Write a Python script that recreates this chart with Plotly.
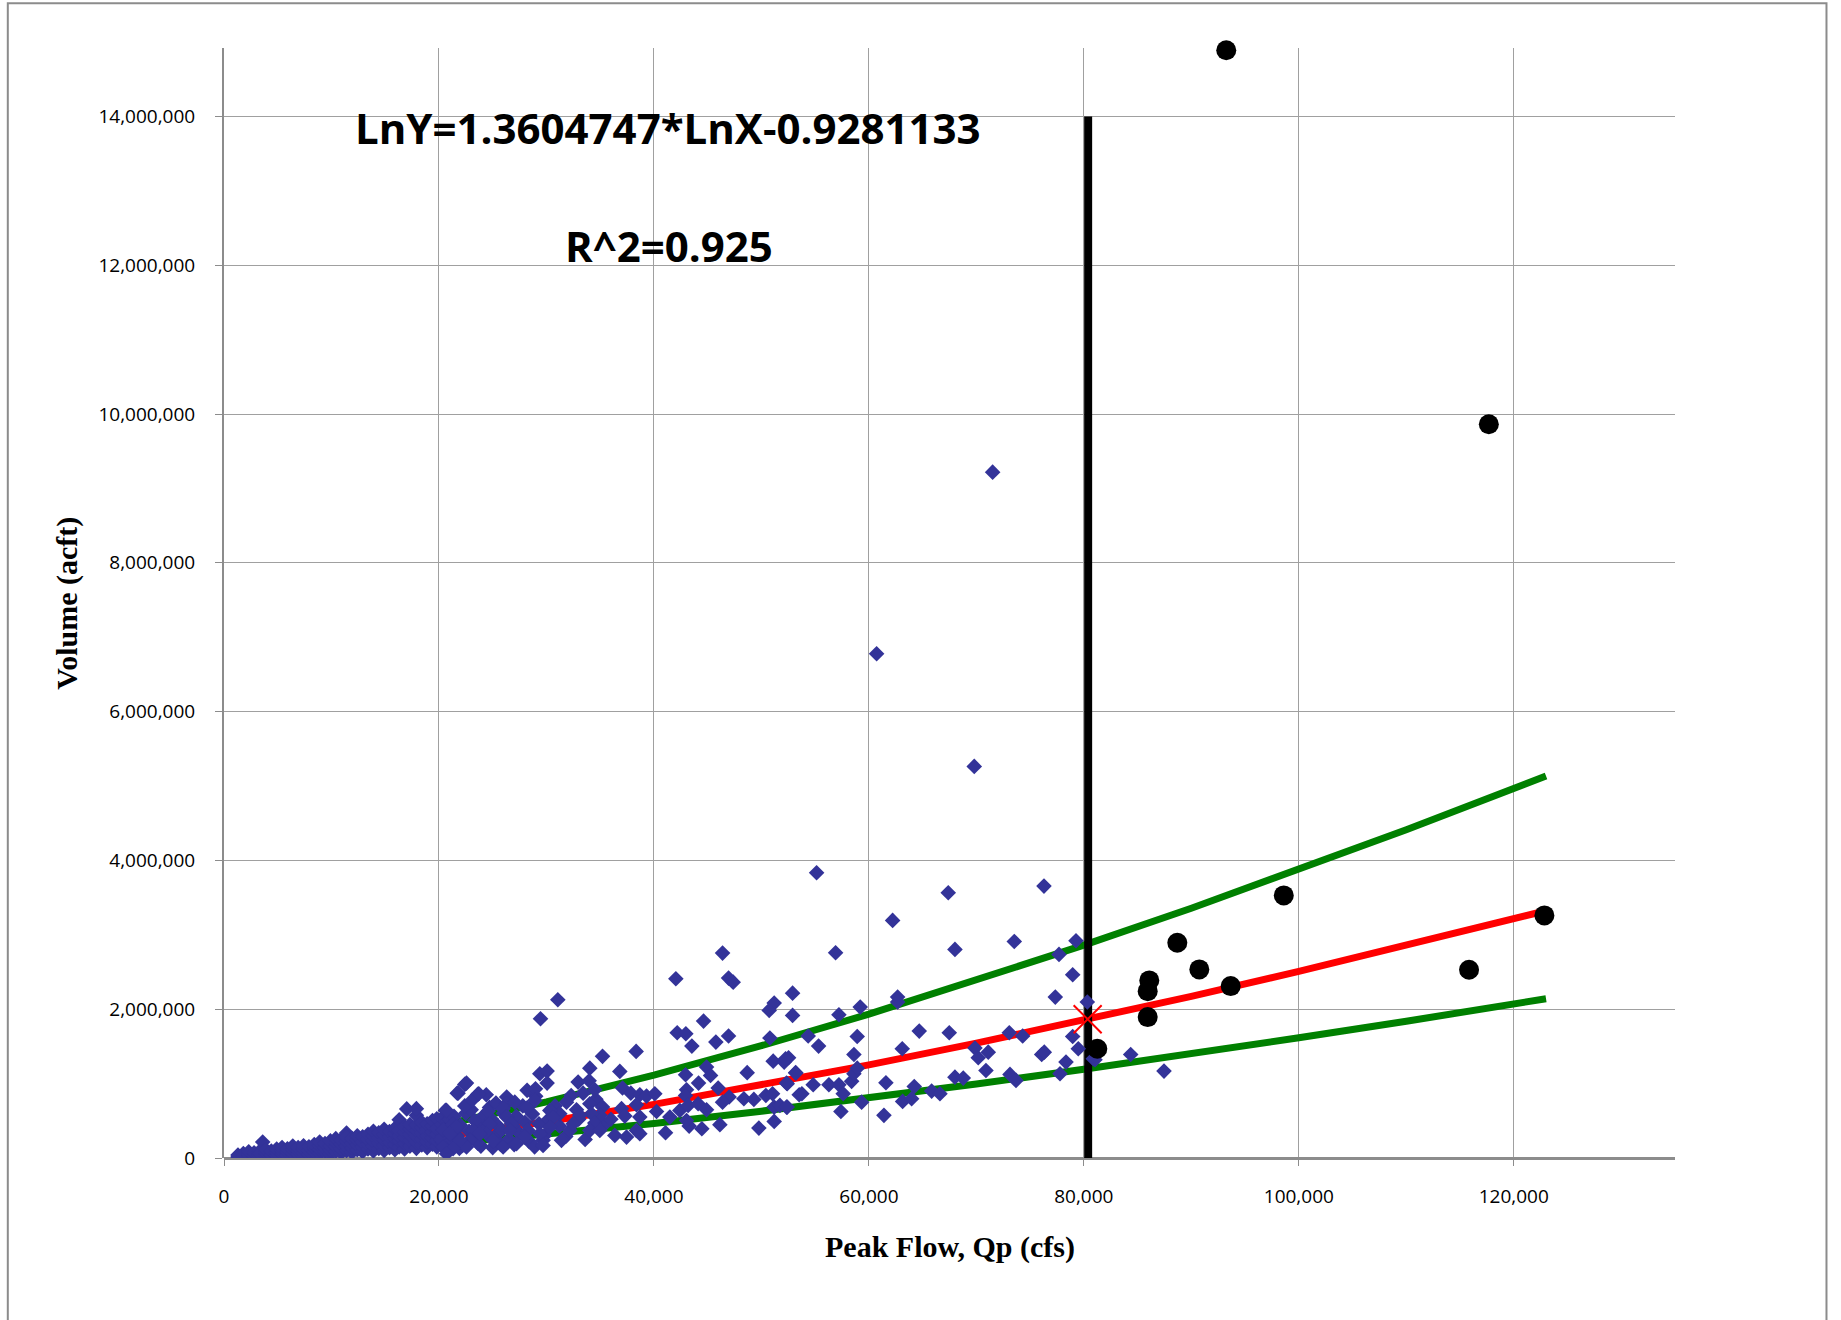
import plotly.graph_objects as go

# ---------------- data ----------------
# observed events (blue diamonds): peak flow (cfs), volume (acft)
qp_obs = [
    1300, 1300, 1800, 1800, 2300, 2300, 2300, 2800, 2800, 3300, 3300, 3300, 3600, 3900, 3900, 3900,
    4400, 4400, 4900, 4900, 4900, 5400, 5400, 5400, 5900, 5900, 5900, 6400, 6400, 6400, 6900, 6900,
    6900, 7400, 7400, 7400, 7900, 7900, 7900, 8400, 8400, 8400, 8900, 8900, 8900, 8900, 9400, 9400,
    9400, 9900, 9900, 9900, 9900, 10400, 10400, 10400, 10400, 10900, 10900, 10900, 10900, 11400,
    11400, 11400, 11400, 11400, 11900, 11900, 11900, 11900, 12400, 12400, 12400, 12400, 12900,
    12900, 12900, 12900, 13400, 13400, 13400, 13400, 13900, 13900, 13900, 13900, 13900, 14400,
    14400, 14400, 14400, 14900, 14900, 14900, 14900, 14900, 15400, 15400, 15400, 15400, 15900,
    15900, 15900, 15900, 15900, 16300, 16300, 16300, 16300, 16300, 16800, 16800, 16800, 16800,
    16800, 17000, 17300, 17300, 17300, 17300, 17300, 17900, 17900, 17900, 17900, 17900, 17900,
    17900, 18400, 18400, 18400, 18400, 18400, 18900, 18900, 18900, 18900, 18900, 19400, 19400,
    19400, 19400, 19400, 19800, 19800, 19800, 19800, 19800, 20300, 20300, 20300, 20300, 20300,
    20600, 20800, 20800, 20800, 20800, 20800, 21300, 21300, 21300, 21300, 21700, 22400, 23600,
    20200, 20400, 20900, 21000, 21400, 21700, 22000, 22200, 22500, 22800, 23000, 23300, 23600,
    23900, 24100, 24300, 24700, 24900, 25200, 25500, 25700, 26000, 26300, 26500, 26900, 27200,
    27500, 27800, 28000, 28400, 28700, 29000, 29300, 29800, 30200, 30800, 31200, 31800, 32300,
    33000, 33600, 34600, 35400, 36000, 22400, 23100, 24400, 25300, 21300, 20600, 21900, 23600,
    25000, 27000, 28900,
    46386, 42040, 46943, 47373, 31058, 29448, 52900, 51188, 50723, 52900, 44617, 42164, 42970,
    43529, 45762, 46943, 50789, 38345, 35218, 34036, 36828, 51095, 52119, 52528, 48676, 42942,
    53181, 29383, 30062, 30062, 22560, 21778, 23705, 32947, 33971, 34501, 33412, 28200, 28982,
    37079, 37851, 38689, 39312, 40084, 43035, 42942, 44152, 44896, 45269, 45976, 47000, 46386,
    48368, 49299, 50415, 51039, 51188, 51719, 52398, 49765, 51188, 52342, 53515, 46135, 44459,
    43278, 41081, 40244, 41482, 42412, 43185, 44115, 44896, 43035, 38376, 38689, 38376, 38689,
    36986, 37293, 36363, 37451, 35218, 34967, 34036, 34191, 34501, 34036, 34967, 32798, 33105,
    32175, 32486, 31244, 31401, 31865, 30313, 30620, 30313, 29689, 29383, 29689, 28200, 28917,
    28293, 27986, 27214, 26283, 25968, 27056, 26283, 26748, 25817, 26589, 25968, 24571, 24729,
    24421, 25036, 23333, 23175, 23798, 22867, 22560, 20699, 21629, 21007, 21937, 20382, 21313,
    20699,
    55135, 67383, 76290, 62208, 56902, 68007, 73527, 79269, 77687, 78961, 77343, 80322, 59193,
    57211, 62673, 62673, 54353, 55321, 58914, 58607, 52249, 53209, 52398, 54818, 53767, 56280,
    57211, 57611, 58393, 58607, 58914, 57397, 59323, 52342, 61585, 61399, 63103, 64685, 67477,
    64220, 63139, 63977, 65838, 66611, 68007, 68780, 69868, 70175, 71106, 70892, 73062, 74309,
    73127, 73685, 76077, 76319, 78339, 77780, 78961, 79482, 80878,
    84358, 87457, 81036, 71514, 60718, 69803,
]
vol_obs = [
    15000, 40000, 25000, 60000, 20000, 50000, 85000, 30000, 70000, 40000, 90000, 60000, 215000,
    35000, 75000, 110000, 45000, 95000, 30000, 70000, 120000, 55000, 100000, 140000, 40000, 85000,
    125000, 60000, 110000, 160000, 50000, 95000, 140000, 70000, 120000, 165000, 45000, 100000,
    150000, 80000, 130000, 180000, 60000, 115000, 170000, 215000, 85000, 140000, 195000, 55000,
    110000, 165000, 230000, 90000, 150000, 210000, 260000, 70000, 125000, 185000, 245000, 100000,
    160000, 225000, 335000, 280000, 75000, 135000, 200000, 265000, 110000, 170000, 240000, 300000,
    85000, 150000, 215000, 285000, 120000, 185000, 250000, 320000, 95000, 160000, 230000, 300000,
    360000, 130000, 200000, 270000, 340000, 100000, 170000, 245000, 315000, 385000, 140000, 210000,
    285000, 355000, 110000, 185000, 260000, 330000, 400000, 515000, 150000, 225000, 300000, 370000,
    120000, 195000, 275000, 345000, 420000, 660000, 160000, 240000, 315000, 390000, 450000, 130000,
    210000, 290000, 370000, 440000, 573000, 663000, 175000, 255000, 335000, 410000, 480000, 140000,
    220000, 300000, 385000, 460000, 185000, 270000, 350000, 430000, 505000, 150000, 235000, 320000,
    400000, 528000, 200000, 280000, 365000, 450000, 540000, 640000, 160000, 245000, 335000, 420000,
    500000, 210000, 295000, 380000, 470000, 872000, 989000, 855000,
    250000, 380000, 190000, 520000, 560000, 300000, 440000, 170000, 600000, 360000, 650000, 250000,
    470000, 160000, 560000, 390000, 680000, 520000, 290000, 430000, 190000, 600000, 820000, 250000,
    430000, 560000, 330000, 700000, 480000, 220000, 590000, 830000, 460000, 300000, 520000, 700000,
    430000, 290000, 840000, 520000, 250000, 790000, 450000, 520000, 700000, 780000, 850000, 740000,
    450000, 120000, 130000, 200000, 140000, 180000, 150000,
    2754000, 2410000, 2418000, 2364000, 2128000, 1872000, 2216000, 2082000, 1984000, 1917000,
    1840000, 1684000, 1671000, 1504000, 1558000, 1639000, 1612000, 1433000, 1366000, 1208000,
    1164000, 1302000, 1289000, 1348000, 1147000, 1120000, 1147000, 1133000, 1168000, 1007000,
    1007000, 872000, 864000, 1020000, 1039000, 918000, 872000, 909000, 931000, 940000, 872000,
    851000, 832000, 864000, 918000, 841000, 1007000, 1222000, 1110000, 940000, 819000, 751000,
    797000, 788000, 841000, 864000, 684000, 707000, 684000, 402000, 492000, 1007000, 851000,
    448000, 394000, 429000, 340000, 626000, 550000, 640000, 707000, 730000, 649000, 505000,
    716000, 550000, 371000, 327000, 663000, 563000, 304000, 281000, 684000, 573000, 730000,
    595000, 469000, 371000, 371000, 649000, 573000, 371000, 461000, 595000, 237000, 751000,
    640000, 550000, 415000, 237000, 327000, 169000, 676000, 774000, 371000, 281000, 192000,
    730000, 663000, 751000, 550000, 461000, 371000, 371000, 147000, 630000, 461000, 327000,
    237000, 505000, 371000, 327000, 237000, 147000, 640000, 415000, 327000, 237000, 147000,
    125000, 58000,
    3835000, 3566000, 3655000, 3194000, 2759000, 2804000, 2911000, 2921000, 2737000, 2464000,
    2163000, 2096000, 2028000, 1926000, 2163000, 2096000, 1639000, 1504000, 1634000, 1392000,
    1335000, 1141000, 999000, 985000, 864000, 985000, 985000, 864000, 1030000, 1133000, 1208000,
    626000, 751000, 684000, 1012000, 573000, 1469000, 1706000, 1684000, 962000, 761000, 797000,
    899000, 864000, 1087000, 1074000, 1477000, 1348000, 1423000, 1177000, 1684000, 1639000,
    1124000, 1043000, 1392000, 1423000, 1289000, 1133000, 1634000, 1469000, 1335000,
    1392000, 1168000, 1321000, 9219000, 6778000, 5264000,
]

# large recorded events (black dots)
qp_big = [81251, 85940, 85940, 86089, 88695, 90743, 93661, 98600, 122848, 115839, 117680, 93250]
vol_big = [1469000, 1894000, 2243000, 2387000, 2894000, 2535000, 2311000, 3530000, 3261000,
           2531000, 9863000, 14890000]

# regression line (red) and bounds (green)
line_q = [1000, 10000, 20000, 30000, 40000, 50000, 60000, 70000, 80000, 90000, 100000, 110000, 123000]
fit_v = [4770, 109350, 280770, 487490, 720960, 976660, 1251700, 1543800, 1851300, 2172900,
         2508000, 2855200, 3323400]
upper_v = [7370, 168900, 433800, 753200, 1113900, 1508900, 1933900, 2385200, 2860300, 3357100,
           3874900, 4411300, 5134700]
lower_v = [3070, 70420, 180800, 313900, 464300, 628900, 806100, 994200, 1192200, 1399300,
           1615200, 1838700, 2140300]

# threshold line and design point
thresh_q = [80400, 80400]
thresh_v = [0, 14000000]
design_q = [80354]
design_v = [1866000]

x_ticks = [0, 20000, 40000, 60000, 80000, 100000, 120000]
y_ticks = [0, 2000000, 4000000, 6000000, 8000000, 10000000, 12000000, 14000000]

equation_text = "LnY=1.3604747*LnX-0.9281133"
r2_text = "R^2=0.925"
x_title = "Peak Flow, Qp (cfs)"
y_title = "Volume (acft)"

# ---------------- figure ----------------
fig = go.Figure()
fig.add_trace(go.Scatter(x=line_q, y=upper_v, mode="lines",
                         line=dict(color="#008000", width=7), hoverinfo="skip"))
fig.add_trace(go.Scatter(x=line_q, y=lower_v, mode="lines",
                         line=dict(color="#008000", width=7), hoverinfo="skip"))
fig.add_trace(go.Scatter(x=line_q, y=fit_v, mode="lines",
                         line=dict(color="#ff0000", width=7), hoverinfo="skip"))
fig.add_trace(go.Scatter(x=thresh_q, y=thresh_v, mode="lines",
                         line=dict(color="#000000", width=8), hoverinfo="skip"))
fig.add_trace(go.Scatter(x=qp_obs, y=vol_obs, mode="markers",
                         marker=dict(symbol="diamond", size=12, color="#333399",
                                     line=dict(width=0))))
fig.add_trace(go.Scatter(x=design_q, y=design_v, mode="markers",
                         marker=dict(symbol="x-thin-open", size=28, color="#ff0000",
                                     line=dict(color="#ff0000", width=2))))
fig.add_trace(go.Scatter(x=qp_big, y=vol_big, mode="markers", cliponaxis=False,
                         marker=dict(symbol="circle", size=20, color="#000000",
                                     line=dict(width=0))))

tick_font = dict(family="Open Sans, Arial, sans-serif", size=19, color="#000000")

fig.update_layout(
    width=1841, height=1320,
    margin=dict(l=224, r=166, t=48, b=162, pad=0),
    paper_bgcolor="#ffffff", plot_bgcolor="#ffffff",
    showlegend=False,
    xaxis=dict(range=[0, 135000], tickvals=x_ticks, tickformat=",",
               showgrid=True, gridcolor="#a0a0a0", gridwidth=1.3,
               showline=False, zeroline=False,
               ticks="outside", ticklen=7, tickcolor="#8c8c8c", tickwidth=1.3,
               tickfont=tick_font, ticklabelstandoff=14),
    yaxis=dict(range=[0, 14920000], tickvals=y_ticks, tickformat=",",
               showgrid=True, gridcolor="#a0a0a0", gridwidth=1.3,
               showline=True, linecolor="#8c8c8c", linewidth=2,
               zeroline=True, zerolinecolor="#8c8c8c", zerolinewidth=3,
               ticks="outside", ticklen=7, tickcolor="#8c8c8c", tickwidth=1.3,
               tickfont=tick_font, ticklabelstandoff=16),
)

fig.add_annotation(x=41300, y=13850000, xref="x", yref="y", text=equation_text,
                   showarrow=False, xanchor="center", yanchor="middle",
                   font=dict(family="Open Sans, Arial, sans-serif", size=42, color="#000000",
                             weight="bold"))
fig.add_annotation(x=41400, y=12270000, xref="x", yref="y", text=r2_text,
                   showarrow=False, xanchor="center", yanchor="middle",
                   font=dict(family="Open Sans, Arial, sans-serif", size=42, color="#000000",
                             weight="bold"))
fig.add_annotation(x=0.5, y=-0.0805, xref="paper", yref="paper", text=x_title,
                   showarrow=False, xanchor="center", yanchor="middle",
                   font=dict(family="Liberation Serif, Times New Roman, serif", size=30,
                             color="#000000", weight="bold"))
fig.add_annotation(x=-0.1084, y=0.5, xref="paper", yref="paper", text=y_title,
                   showarrow=False, xanchor="center", yanchor="middle", textangle=-90,
                   font=dict(family="Liberation Serif, Times New Roman, serif", size=30,
                             color="#000000", weight="bold"))

# outer chart border
fig.add_shape(type="rect", xref="paper", yref="paper",
              x0=-0.149, x1=1.1044, y0=-0.1553, y1=1.0403,
              line=dict(color="#8c8c8c", width=2), fillcolor="rgba(0,0,0,0)", layer="below")

fig.write_html("out.html")
